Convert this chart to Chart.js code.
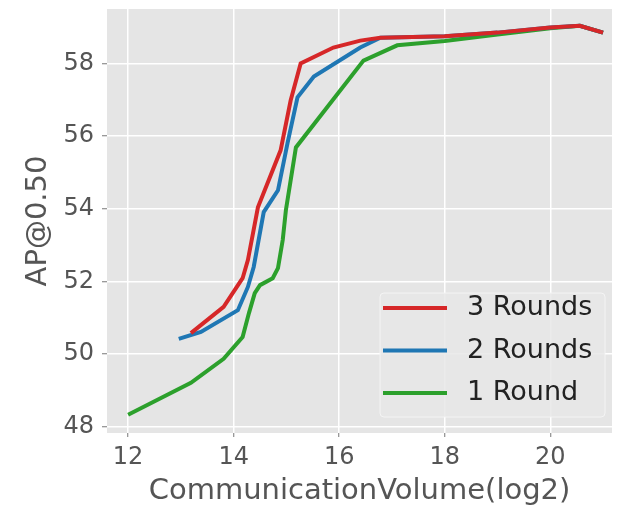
<!DOCTYPE html>
<html lang="en">
  <head>
    <meta charset="UTF-8" />
    <script src="https://cdn.jsdelivr.net/npm/chart.js"></script>
    <title>AP@0.50 vs communication volume</title>
    <style>
      html, body { margin: 0; padding: 0; background: #fff; }
      #wrap { width: 623px; height: 509px; }
    </style>
  </head>
  <body>
    <div id="wrap"><canvas id="grafico"></canvas></div>

    <script>
      // series data
      const seriesNames = ["3 Rounds", "2 Rounds", "1 Round"];
      const seriesColors = ["#d62728", "#1f77b4", "#2ca02c"];

      const x3 = [13.19, 13.81, 14.17, 14.27, 14.46, 14.89, 15.08, 15.27, 15.89, 16.4, 16.78, 18.0, 19.0, 20.0, 20.56, 21.0];
      const y3 = [50.58, 51.3, 52.09, 52.59, 54.04, 55.61, 56.98, 58.0, 58.44, 58.63, 58.71, 58.75, 58.85, 58.99, 59.04, 58.85];

      const x2 = [12.96, 13.38, 14.08, 14.27, 14.38, 14.57, 14.84, 15.02, 15.21, 15.52, 16.4, 16.78, 18.0, 19.0, 20.0, 20.56, 21.0];
      const y2 = [50.42, 50.61, 51.21, 51.85, 52.4, 53.91, 54.51, 55.8, 57.07, 57.64, 58.44, 58.71, 58.75, 58.85, 58.99, 59.04, 58.85];

      const x1 = [12.0, 13.19, 13.81, 14.17, 14.29, 14.4, 14.5, 14.74, 14.84, 14.93, 14.99, 15.18, 16.46, 17.1, 18.0, 19.0, 20.0, 20.56, 21.0];
      const y1 = [48.33, 49.21, 49.87, 50.47, 51.13, 51.68, 51.9, 52.09, 52.37, 53.14, 53.96, 55.69, 58.08, 58.5, 58.62, 58.8, 58.97, 59.04, 58.85];

      const xTicks = [12, 14, 16, 18, 20];
      const yTicks = [48, 50, 52, 54, 56, 58];

      const xs = [x3, x2, x1];
      const ys = [y3, y2, y1];

      const FONT = "'DejaVu Sans', sans-serif";
      const TXT = "#555555";

      // legend drawn inside the plot, bottom right like matplotlib
      const legendInside = {
        id: "legendInside",
        afterDraw(chart) {
          const c = chart.ctx;
          const a = chart.chartArea;
          const w = 225, h = 124;
          const x0 = a.right - 7 - w;
          const y0 = a.bottom - 16 - h;
          c.save();
          c.beginPath();
          c.roundRect(x0, y0, w, h, 4);
          c.fillStyle = "rgba(232,232,232,0.85)";
          c.fill();
          c.strokeStyle = "rgba(245,245,245,0.9)";
          c.lineWidth = 1;
          c.stroke();
          c.font = "27px " + FONT;
          c.textBaseline = "middle";
          chart.data.datasets.forEach((ds, i) => {
            const yy = y0 + 15 + i * 42.5;
            c.beginPath();
            c.moveTo(x0 + 3, yy);
            c.lineTo(x0 + 67, yy);
            c.strokeStyle = ds.borderColor;
            c.lineWidth = 4;
            c.stroke();
            c.fillStyle = "#222";
            c.fillText(ds.label, x0 + 87, yy);
          });
          c.restore();
        },
      };

      const datasets = seriesNames.map((name, i) => ({
        label: name,
        data: xs[i].map((v, k) => ({ x: v, y: ys[i][k] })),
        borderColor: seriesColors[i],
        backgroundColor: seriesColors[i],
        borderWidth: 4,
        pointRadius: 0,
        tension: 0,
        fill: false,
      }));

      new Chart(document.getElementById("grafico"), {
        type: "line",
        data: { datasets: datasets },
        plugins: [
          legendInside,
          {
            id: "bg",
            beforeDraw(chart) {
              const a = chart.chartArea;
              chart.ctx.save();
              chart.ctx.fillStyle = "#e5e5e5";
              chart.ctx.fillRect(a.left, a.top, a.width, a.height);
              chart.ctx.restore();
            },
          },
        ],
        options: {
          responsive: true,
          maintainAspectRatio: false,
          animation: false,
          layout: { padding: { top: 9, right: 11, left: 0, bottom: 0 } },
          plugins: { legend: { display: false }, tooltip: { enabled: false } },
          scales: {
            x: {
              type: "linear",
              min: 11.6,
              max: 21.17,
              afterBuildTicks: (s) => { s.ticks = xTicks.map((v) => ({ value: v })); },
              afterFit: (s) => { s.height = 76; s.paddingLeft = 0; s.paddingRight = 0; },
              border: { display: false },
              grid: { color: "#ffffff", lineWidth: 1.5, tickColor: "#777", tickLength: 4, tickWidth: 1 },
              ticks: { color: TXT, font: { family: FONT, size: 24 }, padding: 6, maxRotation: 0 },
              title: {
                display: true,
                text: "CommunicationVolume(log2)",
                color: TXT,
                font: { family: FONT, size: 29 },
                padding: { top: 0, bottom: 0 },
              },
            },
            y: {
              type: "linear",
              min: 47.83,
              max: 59.5,
              afterBuildTicks: (s) => { s.ticks = yTicks.map((v) => ({ value: v })); },
              afterFit: (s) => { s.width = 107; s.paddingTop = 0; s.paddingBottom = 0; },
              border: { display: false },
              grid: { color: "#ffffff", lineWidth: 1.5, tickColor: "#777", tickLength: 5, tickWidth: 1 },
              ticks: { color: TXT, font: { family: FONT, size: 24 }, padding: 8 },
              title: {
                display: true,
                text: "AP@0.50",
                color: TXT,
                font: { family: FONT, size: 29 },
                padding: { top: 21, bottom: 0 },
              },
            },
          },
        },
      });
    </script>
  </body>
</html>
